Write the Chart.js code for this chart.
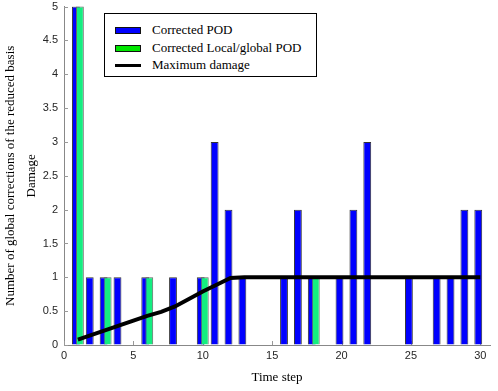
<!DOCTYPE html>
<html>
<head>
<meta charset="utf-8">
<script src="https://cdn.jsdelivr.net/npm/chart.js@4.4.0/dist/chart.umd.min.js"></script>
<style>
    html, body { margin: 0; padding: 0; background: #fff; }
    #wrap { position: relative; width: 498px; height: 391px; }
    #legend {
        position: absolute; left: 104px; top: 13px;
        width: 211px; height: 62px;
        border: 1px solid #000; background: #fff;
        font-family: 'Liberation Serif', 'Times New Roman', serif;
        font-size: 13px; color: #000;
    }
    #legend .row { position: absolute; left: 10px; height: 18px; display: flex; align-items: center; white-space: nowrap; }
    #legend .sw { width: 24px; height: 5px; border: 1px solid #111; margin-right: 11px; }
    #legend .ln { width: 26px; height: 3px; background: #000; margin-right: 11px; }
</style>
</head>
<body>
<div id="wrap">
    <canvas id="chart" width="498" height="391"></canvas>
    <div id="legend"></div>
</div>
<script>
// Данные: число глобальных коррекций базиса по шагам
const podSteps = [1, 2, 3, 4, 6, 8, 10, 11, 12, 13, 16, 17, 18, 20, 21, 22, 25, 27, 28, 29, 30];
const podCounts = [5, 1, 1, 1, 1, 1, 1, 3, 2, 1, 1, 2, 1, 1, 2, 3, 1, 1, 1, 2, 2];
const localSteps = [1, 3, 6, 10, 18];
const localCounts = [5, 1, 1, 1, 1];
// Максимальное повреждение
const damageSteps = [1, 2, 3, 4, 5, 6, 7, 8, 9, 10, 11, 12, 13, 14, 15, 16, 17, 18, 19, 20, 21, 22, 23, 24, 25, 26, 27, 28, 29, 30];
const damageValues = [0.08, 0.15, 0.22, 0.29, 0.36, 0.43, 0.49, 0.57, 0.68, 0.79, 0.89, 0.99, 1, 1, 1, 1, 1, 1, 1, 1, 1, 1, 1, 1, 1, 1, 1, 1, 1, 1];
const xTicks = [0, 5, 10, 15, 20, 25, 30];
const yTicks = [0, 0.5, 1, 1.5, 2, 2.5, 3, 3.5, 4, 4.5, 5];

const labels = ['Corrected POD', 'Corrected Local/global POD', 'Maximum damage'];
const legendColors = ['#0000ff', '#00e600', '#000'];

const toPoints = (xs, ys) => xs.map((x, i) => ({x: x, y: ys[i]}));

// Маленькие засечки внутрь области графика
const innerTicks = {
    id: 'innerTicks',
    beforeDatasetsDraw(chart) {
        const {ctx, chartArea, scales} = chart;
        ctx.save();
        ctx.strokeStyle = '#999';
        ctx.lineWidth = 1;
        ctx.beginPath();
        scales.x.ticks.forEach(t => {
            const px = Math.round(scales.x.getPixelForValue(t.value)) + 0.5;
            ctx.moveTo(px, chartArea.bottom);
            ctx.lineTo(px, chartArea.bottom - 4);
        });
        scales.y.ticks.forEach(t => {
            const py = Math.round(scales.y.getPixelForValue(t.value)) + 0.5;
            ctx.moveTo(chartArea.left, py);
            ctx.lineTo(chartArea.left + 4, py);
        });
        ctx.stroke();
        ctx.restore();
    }
};

// Зелёные столбцы и линия рисуются поверх синих
const drawOrder = {
    id: 'drawOrder',
    beforeDatasetDraw(chart, args) {
        if (args.index > 0) return false;
    },
    afterDatasetsDraw(chart) {
        [1, 2].forEach(i => chart.getDatasetMeta(i).controller.draw());
    }
};

new Chart(document.getElementById('chart'), {
    type: 'bar',
    data: {
        datasets: [{
            label: labels[0],
            data: toPoints(podSteps, podCounts),
            backgroundColor: '#0000ff',
            borderColor: '#333',
            borderWidth: 1,
            categoryPercentage: 0.58,
            barPercentage: 1.95
        }, {
            label: labels[1],
            data: toPoints(localSteps, localCounts),
            backgroundColor: '#14ee80',
            borderColor: '#666',
            borderWidth: 1,
            categoryPercentage: 0.58,
            barPercentage: 1.95
        }, {
            type: 'line',
            label: labels[2],
            data: toPoints(damageSteps, damageValues),
            borderColor: '#000',
            borderWidth: 4,
            pointRadius: 0,
            tension: 0,
            fill: false
        }]
    },
    options: {
        responsive: false,
        animation: false,
        layout: { padding: { top: 1, right: 8, left: 0, bottom: 0 } },
        plugins: {
            legend: { display: false },
            tooltip: { enabled: false }
        },
        scales: {
            x: {
                type: 'linear',
                min: 0,
                max: 30.7,
                offset: false,
                afterBuildTicks: s => { s.ticks = xTicks.map(v => ({value: v})); },
                afterFit: s => { s.height = 46; },
                grid: { display: true, drawOnChartArea: false, drawTicks: true, tickLength: 4, tickColor: 'rgba(0,0,0,0)', offset: false },
                border: { display: true, color: '#888', width: 1 },
                ticks: {
                    padding: 0,
                    color: '#262626',
                    font: { family: 'Liberation Sans', size: 11 },
                    maxRotation: 0,
                    callback: v => String(v)
                },
                title: {
                    display: true,
                    text: 'Time step',
                    color: '#000',
                    padding: { top: 0, bottom: 6 },
                    font: { family: 'Liberation Serif', size: 13 }
                }
            },
            y: {
                min: 0,
                max: 5,
                afterBuildTicks: s => { s.ticks = yTicks.map(v => ({value: v})); },
                afterFit: s => { s.width = 64; },
                grid: { display: true, drawOnChartArea: false, drawTicks: true, tickLength: 6, tickColor: 'rgba(0,0,0,0)' },
                border: { display: true, color: '#888', width: 1 },
                ticks: {
                    padding: 0,
                    color: '#262626',
                    font: { family: 'Liberation Sans', size: 11 },
                    callback: v => String(v)
                },
                title: {
                    display: true,
                    text: ['Number of global corrections of the reduced basis', 'Damage'],
                    color: '#000',
                    padding: { top: 0, bottom: 0 },
                    font: { family: 'Liberation Serif', size: 13, lineHeight: 1.6 }
                }
            }
        }
    },
    plugins: [innerTicks, drawOrder]
});

// Легенда внутри графика
const legendEl = document.getElementById('legend');
const rowTops = [7, 25, 42];
labels.forEach((text, i) => {
    const row = document.createElement('div');
    row.className = 'row';
    row.style.top = rowTops[i] + 'px';
    const mark = document.createElement('span');
    if (i < 2) {
        mark.className = 'sw';
        mark.style.background = legendColors[i];
    } else {
        mark.className = 'ln';
    }
    row.appendChild(mark);
    const label = document.createElement('span');
    label.textContent = text;
    row.appendChild(label);
    legendEl.appendChild(row);
});
</script>
</body>
</html>
